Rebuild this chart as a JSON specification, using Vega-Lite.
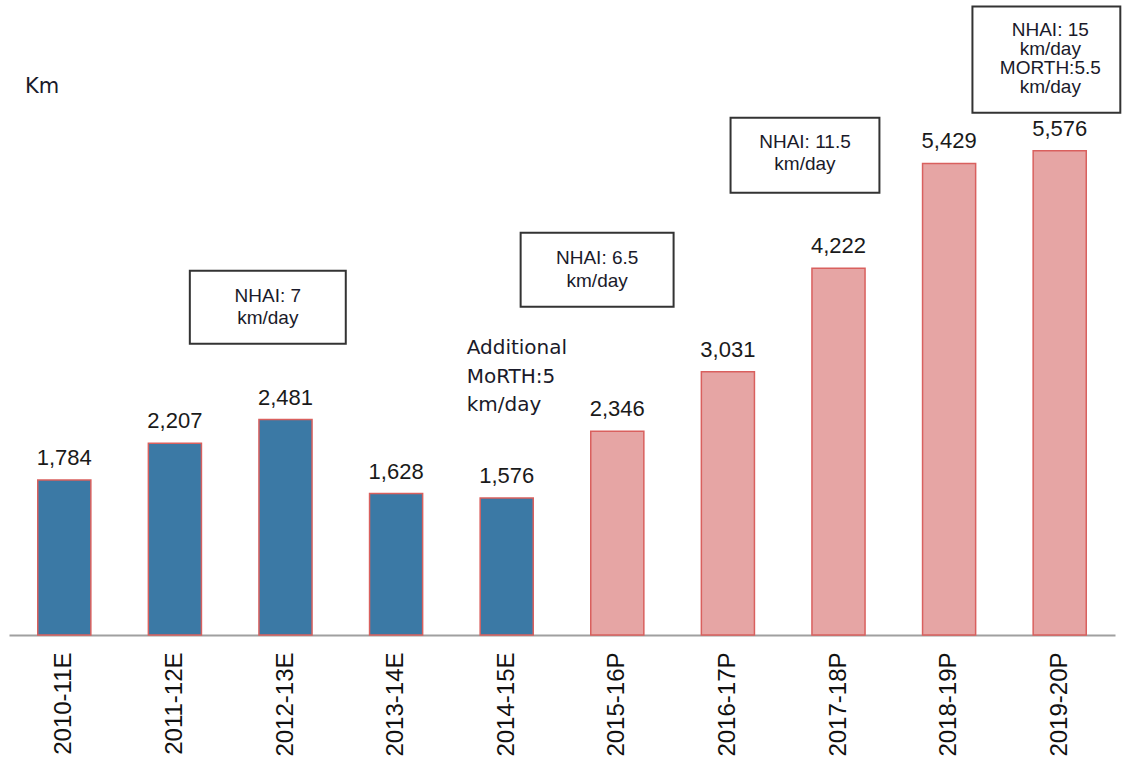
{
  "$schema": "https://vega.github.io/schema/vega-lite/v6.json",
  "autosize": "none",
  "width": 1106,
  "height": 608,
  "padding": {"left": 9, "top": 27, "right": 7, "bottom": 128},
  "background": "white",
  "config": {"view": {"stroke": null}},
  "resolve": {"scale": {"x": "independent"}},
  "layer": [
    {
      "data": {"values": [
        {"year": "2010-11E", "km": 1784, "type": "E"},
        {"year": "2011-12E", "km": 2207, "type": "E"},
        {"year": "2012-13E", "km": 2481, "type": "E"},
        {"year": "2013-14E", "km": 1628, "type": "E"},
        {"year": "2014-15E", "km": 1576, "type": "E"},
        {"year": "2015-16P", "km": 2346, "type": "P"},
        {"year": "2016-17P", "km": 3031, "type": "P"},
        {"year": "2017-18P", "km": 4222, "type": "P"},
        {"year": "2018-19P", "km": 5429, "type": "P"},
        {"year": "2019-20P", "km": 5576, "type": "P"}
      ]},
      "encoding": {
        "x": {"field": "year", "type": "nominal", "sort": null,
          "scale": {"paddingInner": 0.52, "paddingOuter": 0.26},
          "axis": {"title": null, "labelAngle": -90, "labelAlign": "right", "labelBaseline": "middle",
            "labelFont": "Liberation Sans", "labelFontSize": 24, "labelColor": "#111",
            "labelPadding": 17, "ticks": false, "domainColor": "#a0a0a0", "domainWidth": 2}},
        "y": {"field": "km", "type": "quantitative", "scale": {"domain": [0, 7000], "nice": false}, "axis": null}
      },
      "layer": [
        {
          "mark": {"type": "bar", "stroke": "#d9605e", "strokeWidth": 1.5},
          "encoding": {
            "color": {"field": "type", "type": "nominal", "scale": {"domain": ["E", "P"], "range": ["#3b79a5", "#e6a5a4"]}, "legend": null}
          }
        },
        {
          "mark": {"type": "text", "dy": -15, "baseline": "alphabetic", "font": "Liberation Sans", "fontSize": 22, "color": "#1a1a1a"},
          "encoding": {"text": {"field": "km", "type": "quantitative", "format": ",.0f"}}
        }
      ]
    },
    {
      "layer": [
        {
          "data": {"values": [
            {"u": 1.635, "u2": 3.045, "v": 4194, "v2": 3353},
            {"u": 4.626, "u2": 6.009, "v": 4631, "v2": 3779},
            {"u": 6.524, "u2": 7.870, "v": 5956, "v2": 5092},
            {"u": 8.711, "u2": 10.048, "v": 7235, "v2": 6014}
          ]},
          "mark": {"type": "rect", "fill": "white", "stroke": "#333", "strokeWidth": 2, "clip": false},
          "encoding": {
            "x": {"field": "u", "type": "quantitative", "scale": {"domain": [0, 10], "nice": false, "zero": false}, "axis": null},
            "x2": {"field": "u2"},
            "y": {"field": "v", "type": "quantitative", "scale": {"domain": [0, 7000], "nice": false}, "axis": null},
            "y2": {"field": "v2"}
          }
        },
        {
          "data": {"values": [
            {"u": 2.34, "v": 3903, "label": ["NHAI: 7", "km/day"]},
            {"u": 5.318, "v": 4340, "label": ["NHAI: 6.5", "km/day"]},
            {"u": 7.197, "v": 5676, "label": ["NHAI: 11.5", "km/day"]}
          ]},
          "mark": {"type": "text", "align": "center", "baseline": "middle", "lineHeight": 22.5, "font": "Liberation Sans", "fontSize": 19, "color": "#1a1a2a"},
          "encoding": {
            "x": {"field": "u", "type": "quantitative", "scale": {"domain": [0, 10], "nice": false, "zero": false}, "axis": null},
            "y": {"field": "v", "type": "quantitative", "scale": {"domain": [0, 7000], "nice": false}, "axis": null},
            "text": {"field": "label"}
          }
        },
        {
          "data": {"values": [
            {"u": 9.415, "v": 6965, "label": ["NHAI: 15", "km/day", "MORTH:5.5", "km/day"]}
          ]},
          "mark": {"type": "text", "align": "center", "baseline": "middle", "lineHeight": 19, "font": "Liberation Sans", "fontSize": 19, "color": "#1a1a2a"},
          "encoding": {
            "x": {"field": "u", "type": "quantitative", "scale": {"domain": [0, 10], "nice": false, "zero": false}, "axis": null},
            "y": {"field": "v", "type": "quantitative", "scale": {"domain": [0, 7000], "nice": false}, "axis": null},
            "text": {"field": "label"}
          }
        },
        {
          "data": {"values": [
            {"u": 4.138, "v": 3304, "label": ["Additional", "MoRTH:5", "km/day"], "size": 20},
            {"u": 0.145, "v": 6310, "label": ["Km"], "size": 21}
          ]},
          "mark": {"type": "text", "align": "left", "baseline": "middle", "lineHeight": 28.5, "font": "DejaVu Sans", "color": "#1a1a2a"},
          "encoding": {
            "x": {"field": "u", "type": "quantitative", "scale": {"domain": [0, 10], "nice": false, "zero": false}, "axis": null},
            "y": {"field": "v", "type": "quantitative", "scale": {"domain": [0, 7000], "nice": false}, "axis": null},
            "text": {"field": "label"},
            "size": {"field": "size", "type": "quantitative", "scale": null}
          }
        }
      ]
    }
  ]
}
